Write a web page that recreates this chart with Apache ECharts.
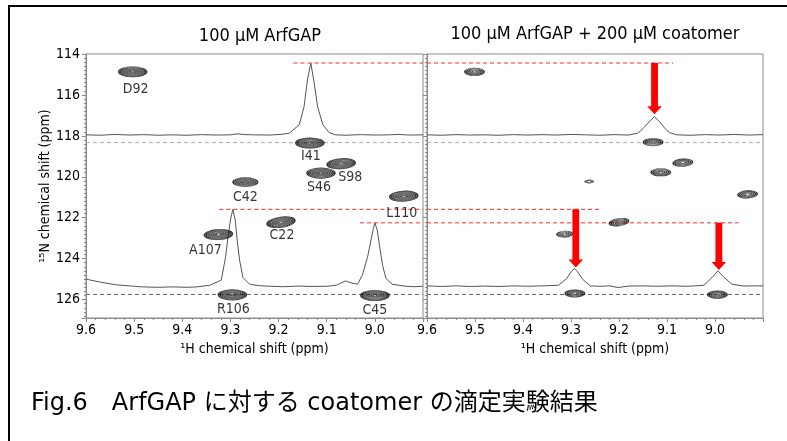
<!DOCTYPE html>
<html><head><meta charset="utf-8">
<script src="https://cdn.jsdelivr.net/npm/echarts@6/dist/echarts.min.js"></script>
<style>html,body{margin:0;padding:0;background:#fff}#c{width:787px;height:441px}</style>
</head><body><div id="c"></div>
<script>
// ---------------- data ----------------
const residues = ['D92','I41','S98','S46','C42','L110','C22','A107','R106','C45'];
// 100 uM ArfGAP (free) cross peaks: 1H / 15N shifts (ppm)
const freeH = [9.503, 9.135, 9.070, 9.112, 9.269, 8.940, 9.195, 9.325, 9.296, 9.000];
const freeN = [114.87, 118.35, 119.36, 119.82, 120.26, 120.95, 122.22, 122.82, 125.77, 125.80];
const freeLevels = [8, 8, 8, 8, 7, 8, 8, 8, 8, 8];
// + 200 uM coatomer cross peaks
const boundH = [9.501, 9.129, 9.067, 9.113, 9.262, 8.932, 9.200, 9.313, 9.292, 8.995];
const boundN = [114.87, 118.31, 119.31, 119.78, 120.23, 120.86, 122.22, 122.80, 125.70, 125.76];
const boundLevels = [5, 5, 5, 5, 2, 5, 5, 4, 5, 5];

// 1D slices drawn over the spectra: [1H ppm, position on 15N axis]
const traceFreeTop = [[9.600,117.95],[9.570,117.97],[9.540,117.93],[9.510,117.96],[9.480,117.94],[9.450,117.97],[9.420,117.95],[9.390,117.97],[9.360,117.94],[9.330,117.96],[9.300,117.95],[9.285,117.90],[9.270,117.94],[9.250,117.95],[9.220,117.96],[9.195,117.93],[9.178,117.87],[9.157,117.46],[9.147,116.57],[9.140,115.26],[9.133,114.44],[9.126,115.42],[9.119,116.57],[9.108,117.46],[9.095,117.84],[9.082,117.95],[9.060,117.97],[9.030,117.94],[9.000,117.96],[8.970,117.95],[8.950,117.93],[8.930,117.96],[8.900,117.95]];
const traceFreeBottom = [[9.600,125.00],[9.570,125.15],[9.537,125.28],[9.500,125.35],[9.482,125.38],[9.450,125.40],[9.420,125.38],[9.390,125.40],[9.370,125.38],[9.343,125.30],[9.319,125.05],[9.310,123.91],[9.305,122.93],[9.300,122.11],[9.295,121.59],[9.290,122.11],[9.286,123.09],[9.281,124.07],[9.274,124.92],[9.260,125.25],[9.240,125.32],[9.219,125.35],[9.190,125.37],[9.160,125.34],[9.130,125.36],[9.100,125.35],[9.080,125.30],[9.061,125.09],[9.050,125.18],[9.036,125.25],[9.026,124.81],[9.015,123.91],[9.008,123.09],[9.003,122.52],[9.000,122.25],[8.995,122.60],[8.990,123.42],[8.984,124.32],[8.977,124.97],[8.964,125.25],[8.936,125.35],[8.920,125.37],[8.900,125.35]];
const traceBoundTop = [[9.600,117.95],[9.570,117.97],[9.540,117.94],[9.510,117.96],[9.480,117.95],[9.450,117.97],[9.420,117.94],[9.390,117.96],[9.360,117.94],[9.330,117.96],[9.300,117.93],[9.270,117.95],[9.240,117.97],[9.210,117.94],[9.180,117.96],[9.161,117.87],[9.150,117.65],[9.140,117.38],[9.126,117.06],[9.113,117.38],[9.104,117.65],[9.095,117.84],[9.080,117.95],[9.050,117.97],[9.020,117.94],[8.990,117.96],[8.960,117.93],[8.930,117.96],[8.900,117.94]];
const traceBoundBottom = [[9.600,125.33],[9.570,125.36],[9.540,125.33],[9.510,125.36],[9.480,125.34],[9.450,125.36],[9.420,125.33],[9.390,125.35],[9.360,125.33],[9.326,125.30],[9.309,124.97],[9.300,124.65],[9.293,124.48],[9.286,124.65],[9.276,125.00],[9.260,125.33],[9.240,125.35],[9.220,125.33],[9.202,125.41],[9.180,125.34],[9.150,125.33],[9.120,125.35],[9.090,125.33],[9.060,125.35],[9.040,125.33],[9.023,125.30],[9.006,124.92],[8.994,124.60],[8.982,124.89],[8.965,125.25],[8.940,125.34],[8.920,125.33],[8.900,125.33]];

// slice positions (grey dashed) on 15N axis
const sliceN = [118.33, 125.75];
// red dashed peak-height guides: level, start (free panel), end (bound panel)
const guideN = [114.44, 121.59, 122.25];
const guideFreeStartH = [9.169, 9.323, 9.031];
const guideBoundEndH = [9.087, 9.240, 8.951];
// red arrows (bound panel): 1H position, from, to (15N axis)
const arrowH = [9.126, 9.290, 8.992];
const arrowFrom = [114.44, 121.59, 122.25];
const arrowTo = [116.95, 124.43, 124.56];

const xTicks = [9.6, 9.5, 9.4, 9.3, 9.2, 9.1, 9.0];
const yTicks = [114, 116, 118, 120, 122, 124, 126];

// ---------------- styles ----------------
const FONT = "'DejaVu Sans Condensed', 'DejaVu Sans', sans-serif";
const labelOffset = {D92:[3,18],I41:[1,13],S98:[9,14],S46:[-2,14],C42:[0,15],L110:[-2,17],C22:[1,13],A107:[-13,16],R106:[1,14],C45:[0,15]};
const tilt = {C22:8, S98:4, A107:3, L110:3};
const ringPath = 'path://M0,1A1,1 0 1,1 2,1A1,1 0 1,1 0,1Z';

function ringSeries(g, H, N, levels, Lmax, outer, inner) {
  const out = [];
  for (let j = Lmax; j >= 1; j--) {
    const t = (j - 1) / (Lmax - 1);
    const w = inner[0] + (outer[0] - inner[0]) * t;
    const h = inner[1] + (outer[1] - inner[1]) * t;
    const data = [];
    residues.forEach((r, i) => {
      if (levels[i] >= j) data.push({ value: [H[i], N[i]], symbolRotate: tilt[r] || 0 });
    });
    out.push({
      type: 'scatter', xAxisIndex: g, yAxisIndex: g, symbol: ringPath, symbolSize: [w, h],
      data, silent: true, z: 5, animation: false,
      itemStyle: { color: 'rgba(0,0,0,0)', borderColor: j > Lmax - 2 ? '#000' : '#222', borderWidth: 1 },
      emphasis: { disabled: true }
    });
  }
  return out;
}
function lineSeries(g, data, color, width, type, z) {
  return { type: 'line', xAxisIndex: g, yAxisIndex: g, data, symbol: 'none', silent: true, animation: false,
    z: z || 3, lineStyle: { color, width, type: type || 'solid' } };
}

const axisGrey = '#8a8a8a';
function xAxis(g) {
  return {
    gridIndex: g, type: 'value', min: 8.9, max: 9.6, interval: 0.1, inverse: true,
    axisLine: { show: true, lineStyle: { color: axisGrey } },
    axisTick: { show: true, length: 4, lineStyle: { color: axisGrey } },
    minorTick: { show: true, splitNumber: 5, length: 2, lineStyle: { color: axisGrey } },
    splitLine: { show: false },
    axisLabel: { color: '#000', fontSize: 14, fontFamily: FONT, margin: 5,
      formatter: v => (xTicks.some(t => Math.abs(t - v) < 1e-6) ? v.toFixed(1) : '') },
    name: '¹H chemical shift (ppm)', nameLocation: 'middle', nameGap: 24,
    nameTextStyle: { color: '#000', fontSize: 14, fontFamily: FONT }
  };
}
function yAxis(g, showLabel) {
  return {
    gridIndex: g, type: 'value', min: 114, max: 126.9, interval: 2, inverse: true,
    axisLine: { show: true, lineStyle: { color: axisGrey } },
    axisTick: { show: true, length: 4, lineStyle: { color: axisGrey } },
    minorTick: { show: true, splitNumber: 10, length: 2, lineStyle: { color: axisGrey } },
    splitLine: { show: false },
    axisLabel: { show: showLabel, color: '#000', fontSize: 14, fontFamily: FONT, margin: 6,
      formatter: v => (yTicks.indexOf(Math.round(v)) >= 0 ? String(Math.round(v)) : '') },
    name: showLabel ? '¹⁵N chemical shift (ppm)' : '', nameLocation: 'middle', nameGap: 33, nameRotate: 90,
    nameTextStyle: { color: '#000', fontSize: 14, fontFamily: FONT }
  };
}

const series = [];
// traces
series.push(lineSeries(0, traceFreeTop, '#555', 1));
series.push(lineSeries(0, traceFreeBottom, '#555', 1));
series.push(lineSeries(1, traceBoundTop, '#555', 1));
series.push(lineSeries(1, traceBoundBottom, '#555', 1));
// grey slice markers
[0, 1].forEach(g => {
  series.push(lineSeries(g, [[9.6, sliceN[0]], [8.9, sliceN[0]]], '#aaaaaa', 1, [4, 3], 2));
  series.push(lineSeries(g, [[9.6, sliceN[1]], [8.9, sliceN[1]]], '#666666', 1, [4, 3], 2));
});
// red guides
guideN.forEach((n, i) => {
  series.push(lineSeries(0, [[guideFreeStartH[i], n], [8.9, n]], '#ff2a2a', 1, [4, 3], 4));
  series.push(lineSeries(1, [[9.6, n], [guideBoundEndH[i], n]], '#ff2a2a', 1, [4, 3], 4));
});
// contours
series.push(...ringSeries(0, freeH, freeN, freeLevels, 8, [28, 10.5], [4, 1.6]));
series.push(...ringSeries(1, boundH, boundN, boundLevels, 5, [19.5, 7.5], [4.5, 1.8]));
// residue labels
series.push({
  type: 'scatter', xAxisIndex: 0, yAxisIndex: 0, symbolSize: 0, silent: true, animation: false, z: 6,
  data: residues.map((r, i) => ({ value: [freeH[i], freeN[i]], name: r,
    label: { offset: labelOffset[r] } })),
  label: { show: true, position: 'inside', formatter: p => p.name, color: '#000', fontSize: 14, fontFamily: FONT }
});
// arrows
series.push({
  type: 'custom', coordinateSystem: 'cartesian2d', xAxisIndex: 1, yAxisIndex: 1, z: 7, silent: true, animation: false,
  data: arrowH.map((h, i) => [h, arrowFrom[i], arrowTo[i]]),
  renderItem: (params, api) => {
    const a = api.coord([api.value(0), api.value(1)]);
    const b = api.coord([api.value(0), api.value(2)]);
    const x = a[0], sw = 3.4, hw = 7.3, hl = 8;
    return { type: 'polygon', shape: { points: [[x - sw, a[1]], [x + sw, a[1]], [x + sw, b[1] - hl], [x + hw, b[1] - hl], [x, b[1]], [x - hw, b[1] - hl], [x - sw, b[1] - hl]] },
      style: { fill: '#ff0000' } };
  }
});

const chart = echarts.init(document.getElementById('c'), null, { renderer: 'canvas' });
chart.setOption({
  animation: false,
  backgroundColor: '#fff',
  grid: [
    { left: 86, top: 54, width: 337, height: 264, show: true, borderColor: axisGrey, borderWidth: 1, backgroundColor: 'transparent' },
    { left: 427, top: 54, width: 336, height: 264, show: true, borderColor: axisGrey, borderWidth: 1, backgroundColor: 'transparent' }
  ],
  xAxis: [xAxis(0), xAxis(1)],
  yAxis: [yAxis(0, true), yAxis(1, false)],
  series,
  graphic: [
    { type: 'rect', shape: { x: 9, y: 6, width: 820, height: 480 }, style: { fill: 'none', stroke: '#000', lineWidth: 2 }, silent: true },
    { type: 'text', x: 260, y: 36, style: { text: '100 μM ArfGAP', font: "18px " + FONT, fill: '#000', textAlign: 'center', textVerticalAlign: 'middle' } },
    { type: 'text', x: 595, y: 34, style: { text: '100 μM ArfGAP + 200 μM coatomer', font: "18px " + FONT, fill: '#000', textAlign: 'center', textVerticalAlign: 'middle' } },
    { type: 'text', x: 31, y: 404, style: { text: 'Fig.6　ArfGAP に対する coatomer の滴定実験結果', font: "24px 'DejaVu Sans', 'Noto Sans CJK JP', sans-serif", fill: '#000', textAlign: 'left', textVerticalAlign: 'middle' } }
  ]
});
</script>
</body></html>
